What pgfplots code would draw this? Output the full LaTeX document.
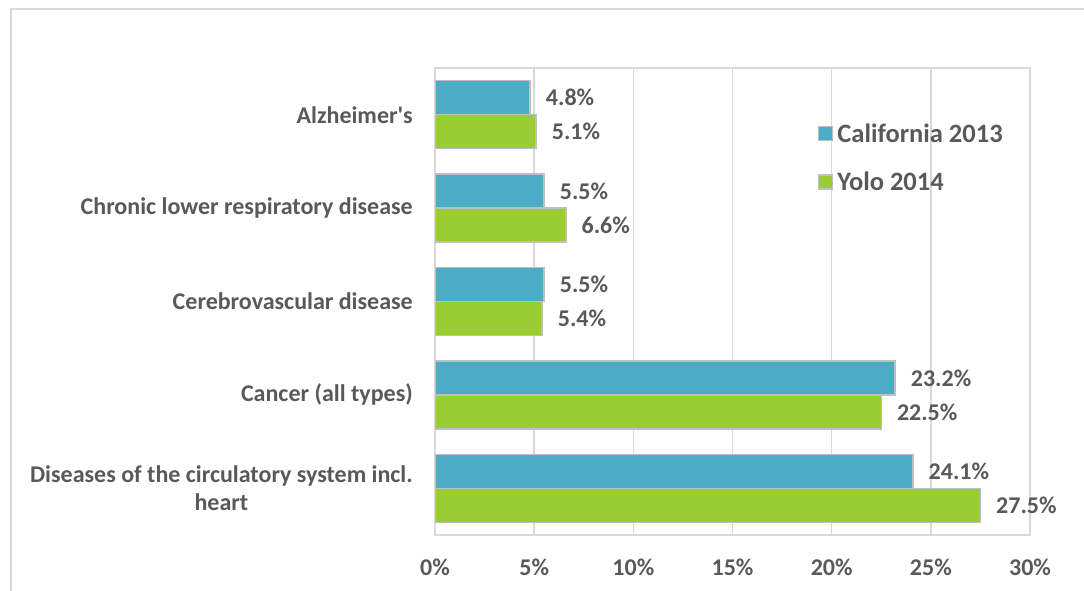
\documentclass[border=0pt]{standalone}
\usepackage{pgfplots}
\pgfplotsset{compat=1.18}
\usepackage{fontspec}
\setmainfont{Carlito}

\definecolor{calblue}{HTML}{4BACC6}
\definecolor{yologreen}{HTML}{9ACD32}
\definecolor{txtgray}{HTML}{595959}
\definecolor{gridgray}{HTML}{D9D9D9}
\definecolor{edgegray}{HTML}{BFBFBF}

\newcommand{\lblfont}{\bfseries\fontsize{24}{28}\selectfont}
\newcommand{\legfont}{\bfseries\fontsize{26.5}{30}\selectfont}

\begin{document}
\begin{tikzpicture}[x=1pt,y=1pt]
\useasboundingbox (0,0) rectangle (1084,590);
% outer chart frame
\draw[gridgray, line width=1.5pt] (11,-5) -- (11,581) -- (1095,581);

\begin{axis}[
  at={(435pt,55pt)}, anchor=south west,
  scale only axis, width=595pt, height=467pt,
  xbar, bar width=0.364,
  y dir=reverse,
  xmin=0, xmax=30, ymin=-0.5, ymax=4.5,
  xtick={0,5,...,30},
  xticklabels={0\%,5\%,10\%,15\%,20\%,25\%,30\%},
  ytick={0,1,2,3,4},
  yticklabels={Alzheimer\textquotesingle s,
               Chronic lower respiratory disease,
               Cerebrovascular disease,
               Cancer (all types),
               {Diseases of the circulatory system incl.\\heart}},
  major tick length=0pt,
  xmajorgrids,
  grid style={gridgray, line width=1.5pt},
  axis line style={gridgray, line width=1.5pt},
  tick label style={txtgray, font=\lblfont, inner sep=0pt},
  yticklabel style={align=center, xshift=-22pt},
  xticklabel style={yshift=-24pt},
  /pgf/number format/assume math mode=true,
  point meta=x,
  nodes near coords={\pgfmathprintnumber[fixed,fixed zerofill,precision=1]{\pgfplotspointmeta}\%},
  every node near coord/.append style={anchor=west, inner sep=0pt, xshift=15pt,
                                       txtgray, font=\lblfont},
  legend style={at={(0.643,0.881)}, anchor=north west, draw=none, fill=none,
                font=\legfont, text=txtgray, inner sep=0pt, row sep=28pt,
                nodes={inner sep=0pt}},
  legend cell align=left,
  legend image code/.code={\draw[#1, line width=1.2pt] (0pt,-7pt) rectangle (14pt,7pt);},
]
\addplot[fill=calblue, draw=edgegray, line width=1.5pt, bar shift=-0.182]
  coordinates {(4.8,0) (5.5,1) (5.5,2) (23.2,3) (24.1,4)};
\addplot[fill=yologreen, draw=edgegray, line width=1.5pt, bar shift=0.182]
  coordinates {(5.1,0) (6.6,1) (5.4,2) (22.5,3) (27.5,4)};
\legend{\,California 2013,\,Yolo 2014}
\end{axis}
\end{tikzpicture}
\end{document}
